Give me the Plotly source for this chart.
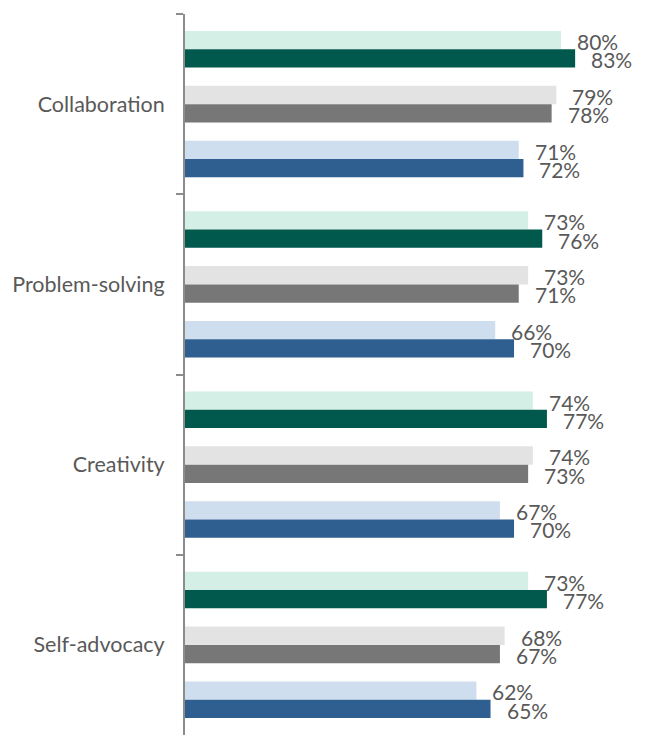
import plotly.graph_objects as go

# Skills and the three comparison pairs (lighter = first measure, darker = second)
skills = ["Collaboration", "Problem-solving", "Creativity", "Self-advocacy"]
green_light = [80, 73, 74, 73]
green_dark = [83, 76, 77, 77]
gray_light = [79, 73, 74, 68]
gray_dark = [78, 71, 73, 67]
blue_light = [71, 66, 67, 62]
blue_dark = [72, 70, 70, 65]

series = [
    (green_light, "#D4EFE5"),
    (green_dark, "#00594C"),
    None,  # spacer slot
    (gray_light, "#E3E3E3"),
    (gray_dark, "#777777"),
    None,  # spacer slot
    (blue_light, "#CFDEEE"),
    (blue_dark, "#2F5F91"),
]

n_slots = len(series)
group_span = 0.81
slot = group_span / n_slots
start = -group_span / 2

FONT = "Lato, 'Open Sans', sans-serif"
TEXT_COLOR = "#595959"

fig = go.Figure()
annotations = []
for k, entry in enumerate(series):
    if entry is None:
        continue
    values, color = entry
    off = start + k * slot
    fig.add_trace(go.Bar(
        y=skills, x=values, orientation="h",
        width=slot, offset=off,
        marker=dict(color=color, line=dict(width=0)),
        hoverinfo="x+y", showlegend=False,
    ))
    for i, v in enumerate(values):
        annotations.append(dict(
            x=v, y=i + off + slot / 2 + 0.008, xref="x", yref="y",
            text=f"{v}%", showarrow=False, xanchor="left", yanchor="middle",
            xshift=14, font=dict(family=FONT, size=21, color=TEXT_COLOR),
        ))

fig.update_layout(
    width=648, height=735,
    margin=dict(l=185, r=0, t=14, b=0),
    paper_bgcolor="white", plot_bgcolor="white",
    barmode="overlay",
    annotations=annotations,
    xaxis=dict(range=[0, 98.5], visible=False),
    yaxis=dict(
        type="category", autorange="reversed",
        showline=True, linecolor="#8C8C8C", linewidth=2,
        ticks="outside", tickson="boundaries", ticklen=7,
        tickcolor="#8C8C8C", tickwidth=2,
        ticklabelstandoff=14,
        tickfont=dict(family=FONT, size=21.5, color=TEXT_COLOR),
        showgrid=False, zeroline=False,
    ),
)

fig.write_html("out.html")
